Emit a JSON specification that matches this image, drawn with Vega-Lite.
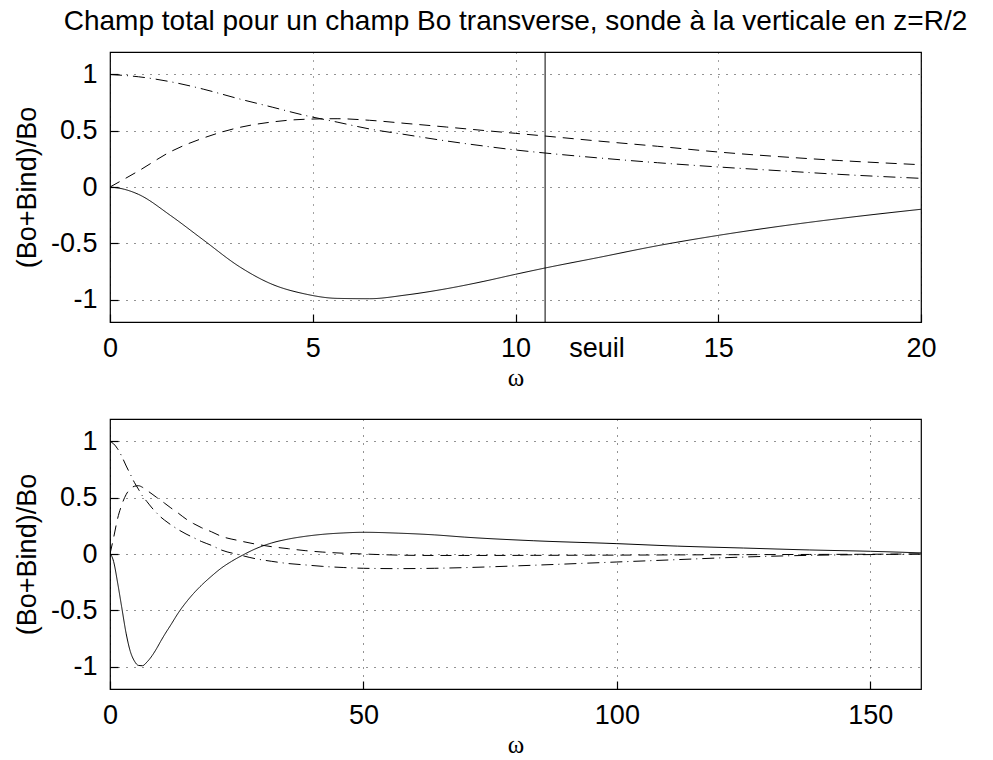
{
  "$schema": "https://vega.github.io/schema/vega-lite/v6.json",
  "padding": {"left": 12, "top": 6, "right": 5, "bottom": 0},
  "background": "white",
  "config": {
    "font": "Liberation Sans",
    "view": {"stroke": "black", "strokeWidth": 1.2},
    "axis": {
      "domain": false,
      "labelFont": "Liberation Sans",
      "labelFontSize": 27,
      "labelColor": "black",
      "labelFlush": false,
      "labelOverlap": false,
      "tickColor": "black",
      "tickSize": -8,
      "tickWidth": 1.2,
      "labelPadding": 21,
      "grid": true,
      "gridColor": "black",
      "gridDash": [1, 7],
      "gridOpacity": 0.85,
      "gridWidth": 1,
      "titleFontWeight": "normal",
      "titleColor": "black"
    },
    "axisX": {"titleFont": "Liberation Serif", "titleFontSize": 25, "titlePadding": 4},
    "axisY": {"titleFont": "Liberation Sans", "titleFontSize": 27, "titlePadding": 9}
  },
  "datasets": {
    "courbes": [
      {"w": 0, "serie": "trait plein", "v": 0},
      {"w": 0.35, "serie": "trait plein", "v": -0.02},
      {"w": 0.7, "serie": "trait plein", "v": -0.065},
      {"w": 1.5, "serie": "trait plein", "v": -0.255},
      {"w": 2.3, "serie": "trait plein", "v": -0.47},
      {"w": 3.2, "serie": "trait plein", "v": -0.71},
      {"w": 4.0, "serie": "trait plein", "v": -0.865},
      {"w": 4.8, "serie": "trait plein", "v": -0.95},
      {"w": 5.6, "serie": "trait plein", "v": -0.99},
      {"w": 6.4, "serie": "trait plein", "v": -0.993},
      {"w": 7.3, "serie": "trait plein", "v": -0.96},
      {"w": 8.3, "serie": "trait plein", "v": -0.904},
      {"w": 9.2, "serie": "trait plein", "v": -0.84},
      {"w": 10, "serie": "trait plein", "v": -0.776},
      {"w": 10.73, "serie": "trait plein", "v": -0.72},
      {"w": 12, "serie": "trait plein", "v": -0.63},
      {"w": 13.5, "serie": "trait plein", "v": -0.522},
      {"w": 15, "serie": "trait plein", "v": -0.43},
      {"w": 16.5, "serie": "trait plein", "v": -0.35},
      {"w": 18, "serie": "trait plein", "v": -0.28},
      {"w": 20, "serie": "trait plein", "v": -0.198},
      {"w": 22, "serie": "trait plein", "v": -0.124},
      {"w": 24, "serie": "trait plein", "v": -0.065},
      {"w": 26.6, "serie": "trait plein", "v": 0.0},
      {"w": 28.6, "serie": "trait plein", "v": 0.044},
      {"w": 31.9, "serie": "trait plein", "v": 0.098},
      {"w": 35.2, "serie": "trait plein", "v": 0.133},
      {"w": 38.5, "serie": "trait plein", "v": 0.157},
      {"w": 42, "serie": "trait plein", "v": 0.175},
      {"w": 46, "serie": "trait plein", "v": 0.187},
      {"w": 50, "serie": "trait plein", "v": 0.193},
      {"w": 57, "serie": "trait plein", "v": 0.185},
      {"w": 64, "serie": "trait plein", "v": 0.17},
      {"w": 70, "serie": "trait plein", "v": 0.15},
      {"w": 83.5, "serie": "trait plein", "v": 0.118},
      {"w": 100, "serie": "trait plein", "v": 0.092},
      {"w": 112, "serie": "trait plein", "v": 0.07},
      {"w": 125, "serie": "trait plein", "v": 0.053},
      {"w": 138, "serie": "trait plein", "v": 0.036},
      {"w": 150, "serie": "trait plein", "v": 0.024},
      {"w": 160, "serie": "trait plein", "v": 0.01},

      {"w": 0, "serie": "tirets", "v": 0},
      {"w": 0.7, "serie": "tirets", "v": 0.142},
      {"w": 1.5, "serie": "tirets", "v": 0.315},
      {"w": 2.3, "serie": "tirets", "v": 0.435},
      {"w": 3.2, "serie": "tirets", "v": 0.53},
      {"w": 4.0, "serie": "tirets", "v": 0.578},
      {"w": 4.8, "serie": "tirets", "v": 0.602},
      {"w": 5.6, "serie": "tirets", "v": 0.607},
      {"w": 6.4, "serie": "tirets", "v": 0.593},
      {"w": 7.3, "serie": "tirets", "v": 0.565},
      {"w": 8.3, "serie": "tirets", "v": 0.533},
      {"w": 9.2, "serie": "tirets", "v": 0.503},
      {"w": 10, "serie": "tirets", "v": 0.477},
      {"w": 10.73, "serie": "tirets", "v": 0.453},
      {"w": 12, "serie": "tirets", "v": 0.41},
      {"w": 13.5, "serie": "tirets", "v": 0.362},
      {"w": 15, "serie": "tirets", "v": 0.311},
      {"w": 16.5, "serie": "tirets", "v": 0.27},
      {"w": 18, "serie": "tirets", "v": 0.235},
      {"w": 20, "serie": "tirets", "v": 0.198},
      {"w": 22, "serie": "tirets", "v": 0.157},
      {"w": 25.3, "serie": "tirets", "v": 0.12},
      {"w": 28.6, "serie": "tirets", "v": 0.089},
      {"w": 31.9, "serie": "tirets", "v": 0.065},
      {"w": 35.2, "serie": "tirets", "v": 0.047},
      {"w": 38.5, "serie": "tirets", "v": 0.03},
      {"w": 42, "serie": "tirets", "v": 0.017},
      {"w": 46, "serie": "tirets", "v": 0.007},
      {"w": 50, "serie": "tirets", "v": 0.0},
      {"w": 57, "serie": "tirets", "v": -0.01},
      {"w": 64, "serie": "tirets", "v": -0.013},
      {"w": 70, "serie": "tirets", "v": -0.013},
      {"w": 83.5, "serie": "tirets", "v": -0.012},
      {"w": 100, "serie": "tirets", "v": -0.01},
      {"w": 112, "serie": "tirets", "v": -0.008},
      {"w": 125, "serie": "tirets", "v": -0.006},
      {"w": 138, "serie": "tirets", "v": -0.004},
      {"w": 150, "serie": "tirets", "v": -0.002},
      {"w": 160, "serie": "tirets", "v": 0.0},

      {"w": 0, "serie": "tirets-points", "v": 1},
      {"w": 0.7, "serie": "tirets-points", "v": 0.98},
      {"w": 1.5, "serie": "tirets-points", "v": 0.935},
      {"w": 2.3, "serie": "tirets-points", "v": 0.87},
      {"w": 3.2, "serie": "tirets-points", "v": 0.782},
      {"w": 4.0, "serie": "tirets-points", "v": 0.71},
      {"w": 4.8, "serie": "tirets-points", "v": 0.637},
      {"w": 5.6, "serie": "tirets-points", "v": 0.577},
      {"w": 6.4, "serie": "tirets-points", "v": 0.516},
      {"w": 7.3, "serie": "tirets-points", "v": 0.465},
      {"w": 8.3, "serie": "tirets-points", "v": 0.409},
      {"w": 9.2, "serie": "tirets-points", "v": 0.365},
      {"w": 10, "serie": "tirets-points", "v": 0.329},
      {"w": 10.73, "serie": "tirets-points", "v": 0.302},
      {"w": 12, "serie": "tirets-points", "v": 0.26},
      {"w": 13.5, "serie": "tirets-points", "v": 0.216},
      {"w": 15, "serie": "tirets-points", "v": 0.178},
      {"w": 16.5, "serie": "tirets-points", "v": 0.145},
      {"w": 18, "serie": "tirets-points", "v": 0.112},
      {"w": 20, "serie": "tirets-points", "v": 0.077},
      {"w": 22, "serie": "tirets-points", "v": 0.035},
      {"w": 25.3, "serie": "tirets-points", "v": -0.005},
      {"w": 28.6, "serie": "tirets-points", "v": -0.041},
      {"w": 31.9, "serie": "tirets-points", "v": -0.065},
      {"w": 35.2, "serie": "tirets-points", "v": -0.085},
      {"w": 38.5, "serie": "tirets-points", "v": -0.097},
      {"w": 42, "serie": "tirets-points", "v": -0.11},
      {"w": 46, "serie": "tirets-points", "v": -0.12},
      {"w": 50, "serie": "tirets-points", "v": -0.127},
      {"w": 57, "serie": "tirets-points", "v": -0.13},
      {"w": 64, "serie": "tirets-points", "v": -0.127},
      {"w": 70, "serie": "tirets-points", "v": -0.121},
      {"w": 83.5, "serie": "tirets-points", "v": -0.1},
      {"w": 100, "serie": "tirets-points", "v": -0.071},
      {"w": 112, "serie": "tirets-points", "v": -0.05},
      {"w": 125, "serie": "tirets-points", "v": -0.027},
      {"w": 138, "serie": "tirets-points", "v": -0.012},
      {"w": 150, "serie": "tirets-points", "v": -0.005},
      {"w": 160, "serie": "tirets-points", "v": 0.0}
    ]
  },
  "spacing": 27,
  "vconcat": [
    {
      "width": 811,
      "height": 270,
      "title": {
        "text": "Champ total pour un champ Bo transverse, sonde à la verticale en z=R/2",
        "font": "Liberation Sans",
        "fontSize": 28,
        "fontWeight": "normal",
        "color": "black",
        "frame": "group",
        "anchor": "middle",
        "offset": 16
      },
      "layer": [
        {
          "data": {"name": "courbes"},
          "transform": [{"filter": "datum.w <= 20"}],
          "mark": {"type": "line", "color": "black", "strokeWidth": 1, "interpolate": "monotone", "clip": true},
          "encoding": {
            "x": {
              "field": "w", "type": "quantitative", "title": "ω",
              "scale": {"domain": [0, 20], "nice": false, "zero": false},
              "axis": {
                "values": [0, 5, 10, 12, 15, 20],
                "labelExpr": "datum.value == 12 ? 'seuil' : datum.label",
                "gridOpacity": {"condition": {"test": "datum.value == 12", "value": 0}, "value": 0.85},
                "tickOpacity": {"condition": {"test": "datum.value == 12", "value": 0}, "value": 1}
              }
            },
            "y": {
              "field": "v", "type": "quantitative", "title": "(Bo+Bind)/Bo",
              "scale": {"domain": [-1.2, 1.2], "nice": false, "zero": false},
              "axis": {"values": [-1, -0.5, 0, 0.5, 1], "labelExpr": "'' + datum.value"}
            },
            "strokeDash": {
              "field": "serie", "type": "nominal",
              "scale": {"domain": ["trait plein", "tirets", "tirets-points"], "range": [[1, 0], [11, 7], [12, 5, 1, 5]]},
              "legend": null
            }
          }
        },
        {
          "data": {"values": [{"seuil": 10.73}]},
          "mark": {"type": "rule", "color": "black", "strokeWidth": 1},
          "encoding": {
            "x": {"field": "seuil", "type": "quantitative", "title": "ω"}
          }
        }
      ]
    },
    {
      "width": 811,
      "height": 270,
      "data": {"name": "courbes"},
      "mark": {"type": "line", "color": "black", "strokeWidth": 1, "interpolate": "monotone", "clip": true},
      "encoding": {
        "x": {
          "field": "w", "type": "quantitative", "title": "ω",
          "scale": {"domain": [0, 160], "nice": false, "zero": false},
          "axis": {"values": [0, 50, 100, 150]}
        },
        "y": {
          "field": "v", "type": "quantitative", "title": "(Bo+Bind)/Bo",
          "scale": {"domain": [-1.2, 1.2], "nice": false, "zero": false},
          "axis": {"values": [-1, -0.5, 0, 0.5, 1], "labelExpr": "'' + datum.value"}
        },
        "strokeDash": {
          "field": "serie", "type": "nominal",
          "scale": {"domain": ["trait plein", "tirets", "tirets-points"], "range": [[1, 0], [11, 7], [12, 5, 1, 5]]},
          "legend": null
        }
      }
    }
  ]
}
